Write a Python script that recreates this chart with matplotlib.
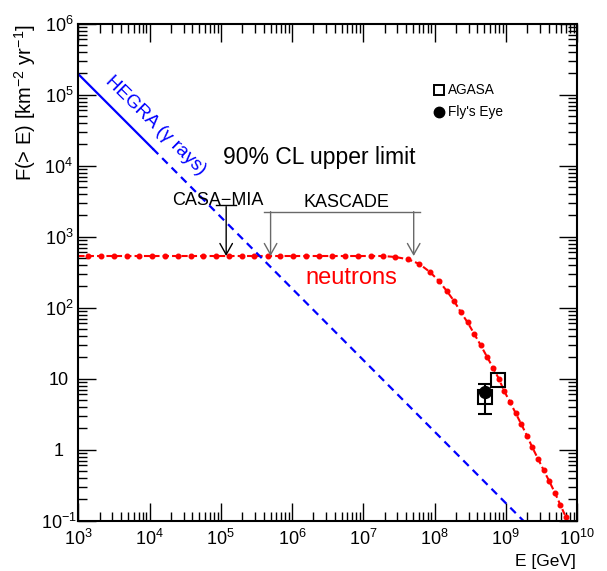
import matplotlib
matplotlib.use("Agg")
import matplotlib.pyplot as plt
import numpy as np
from matplotlib.ticker import FixedLocator, FuncFormatter, NullFormatter

plt.rcParams['font.family'] = ['Liberation Sans', 'DejaVu Sans']
plt.rcParams['mathtext.fontset'] = 'custom'
plt.rcParams['mathtext.rm'] = 'Liberation Sans'
plt.rcParams['mathtext.it'] = 'Liberation Sans:italic'

# neutron flux upper limit (log10 E [GeV], log10 F)
log_E_neutron = [3.000, 3.140, 3.319, 3.497, 3.680, 3.857, 4.039, 4.218, 4.396, 4.579,
                 4.756, 4.934, 5.117, 5.295, 5.472, 5.660, 5.837, 6.020, 6.202, 6.385,
                 6.567, 6.750, 6.928, 7.111, 7.279, 7.448, 7.631, 7.789, 7.935, 8.062,
                 8.169, 8.277, 8.365, 8.463, 8.558, 8.646, 8.736, 8.820, 8.904, 8.975,
                 9.059, 9.138, 9.218, 9.298, 9.372, 9.452, 9.531, 9.611, 9.691, 9.765,
                 9.845]
log_F_neutron = [2.728, 2.728, 2.728, 2.728, 2.728, 2.728, 2.728, 2.728, 2.728, 2.728,
                 2.728, 2.728, 2.728, 2.728, 2.728, 2.728, 2.728, 2.728, 2.728, 2.728,
                 2.728, 2.728, 2.728, 2.728, 2.728, 2.714, 2.682, 2.615, 2.503, 2.376,
                 2.239, 2.090, 1.944, 1.794, 1.630, 1.475, 1.310, 1.155, 0.996, 0.831,
                 0.672, 0.517, 0.358, 0.197, 0.034, -0.127, -0.286, -0.445, -0.610, -0.775,
                 -0.952]

# HEGRA gamma rays: measured part and extrapolation
hegra_logE = [3.0, 4.045]
hegra_logF = [5.29, 4.24]
hegra_ext_logE = [4.045, 9.246]
hegra_ext_logF = [4.24, -1.0]

# cosmic ray data points
agasa_E = [7.9e8, 5.1e8]
agasa_F = [9.6, 5.5]
flyseye_E = [5.1e8]
flyseye_F = [6.5]
flyseye_lo = [3.15]
flyseye_hi = [8.3]

# experiment limits (arrow positions in E)
casa_E = 1.19e5
kascade_E = [5.0e5, 5.1e7]
kascade_bar = [4.1e5, 6.2e7]
plateau = 10 ** 2.728
label_F = 2650
kascade_F = 2250

x_decades = np.arange(3, 11)
y_decades = np.arange(-1, 7)

fig = plt.figure(figsize=(6.07, 5.71), dpi=100)
ax = fig.add_axes([0.129, 0.0881, 0.8216, 0.8704])
ax.set_xscale('log')
ax.set_yscale('log')
ax.set_xlim(1e3, 1e10)
ax.set_ylim(1e-1, 1e6)

E_n = 10 ** np.array(log_E_neutron)
F_n = 10 ** np.array(log_F_neutron)
ax.plot(E_n, F_n, color='red', lw=1.5, ls=(0, (3, 1.5)), marker='o', ms=3.3,
        markevery=slice(1, None))

ax.plot(10 ** np.array(hegra_logE), 10 ** np.array(hegra_logF), color='blue', lw=1.6)
ax.plot(10 ** np.array(hegra_ext_logE), 10 ** np.array(hegra_ext_logF), color='blue',
        lw=1.6, ls=(0, (3.5, 2.5)))

ax.plot(agasa_E, agasa_F, 's', ms=9.5, mfc='none', mec='black', mew=1.5)
ax.errorbar(flyseye_E, flyseye_F,
            yerr=[np.array(flyseye_F) - np.array(flyseye_lo), np.array(flyseye_hi) - np.array(flyseye_F)],
            fmt='o', color='black', ms=8.5, capsize=5, elinewidth=1.5, capthick=1.5)

# arrows
arrow = dict(arrowstyle='->, head_length=0.8, head_width=0.45', lw=1.0, shrinkA=0, shrinkB=0,
             mutation_scale=10)
ax.annotate('', xy=(casa_E, plateau), xytext=(casa_E, label_F),
            arrowprops=dict(arrow, color='black'))
ax.plot([casa_E / 1.38, casa_E * 1.38], [label_F * 1.05, label_F * 1.05], color='black', lw=1.0)
ax.plot(kascade_bar, [kascade_F, kascade_F], color='dimgray', lw=1.0)
for e in kascade_E:
    ax.annotate('', xy=(e, plateau), xytext=(e, kascade_F),
                arrowprops=dict(arrow, color='dimgray'))

ax.text(0.280, 0.644, 'CASA\u2212MIA', transform=ax.transAxes, ha='center', va='center', fontsize=13)
ax.text(0.538, 0.640, 'KASCADE', transform=ax.transAxes, ha='center', va='center', fontsize=13)
ax.text(0.483, 0.730, '90% CL upper limit', transform=ax.transAxes, ha='center', va='center',
        fontsize=16.5)
ax.text(0.548, 0.488, 'neutrons', transform=ax.transAxes, ha='center', va='center', fontsize=17,
        color='red')
ax.text(0.154, 0.794, 'HEGRA (\u03b3 rays)', transform=ax.transAxes, ha='center', va='center',
        fontsize=13.5, color='blue', rotation=-44.5, rotation_mode='anchor')

# legend
ax.plot([0.724], [0.866], 's', transform=ax.transAxes, ms=7.5, mfc='none', mec='black', mew=1.4)
ax.plot([0.724], [0.823], 'o', transform=ax.transAxes, ms=7.5, color='black')
ax.text(0.742, 0.866, 'AGASA', transform=ax.transAxes, ha='left', va='center', fontsize=9.8)
ax.text(0.742, 0.823, "Fly's Eye", transform=ax.transAxes, ha='left', va='center', fontsize=9.8)

# ROOT-like axes
for s in ax.spines.values():
    s.set_linewidth(1.5)
x_minor = [m * 10.0 ** d for d in x_decades[:-1] for m in range(2, 10)]
y_minor = [m * 10.0 ** d for d in y_decades[:-1] for m in range(2, 10)]
ax.xaxis.set_major_locator(FixedLocator(10.0 ** x_decades))
ax.yaxis.set_major_locator(FixedLocator(10.0 ** y_decades))
ax.xaxis.set_minor_locator(FixedLocator(x_minor))
ax.yaxis.set_minor_locator(FixedLocator(y_minor))
ax.xaxis.set_minor_formatter(NullFormatter())
ax.yaxis.set_minor_formatter(NullFormatter())


def fmt(v, pos):
    p = int(round(np.log10(v)))
    if p == 0:
        return '1'
    if p == 1:
        return '10'
    return '$10^{%d}$' % p


ax.xaxis.set_major_formatter(FuncFormatter(fmt))
ax.yaxis.set_major_formatter(FuncFormatter(fmt))
ax.tick_params(which='both', direction='in', top=True, right=True, labelsize=13)
ax.tick_params(which='major', length=13.3, width=1.0)
ax.tick_params(which='minor', length=6.5, width=1.0)
ax.tick_params(axis='x', which='major', pad=6)
ax.tick_params(axis='y', which='major', pad=14)
for lab in ax.get_yticklabels():
    lab.set_horizontalalignment('center')

fig.text(0.041, 0.958, 'F(> E) [km$^{-2}$ yr$^{-1}$]', rotation=90, ha='center', va='top',
         fontsize=14.5)
fig.text(0.948, 0.003, 'E [GeV]', ha='right', va='bottom', fontsize=12.5)

fig.savefig('out.png', dpi=100)
